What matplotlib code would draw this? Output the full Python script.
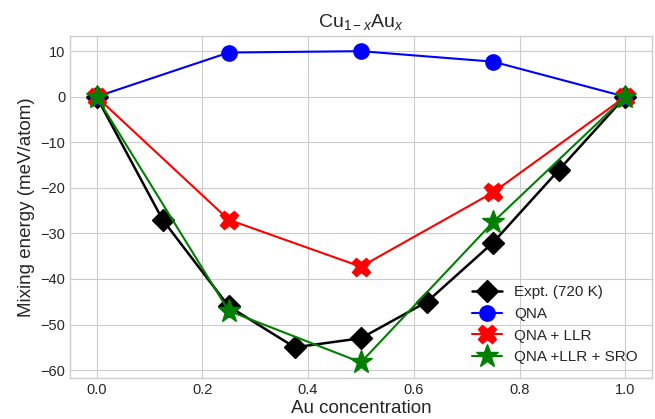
import matplotlib
matplotlib.use('Agg')
import matplotlib.pyplot as plt

# data
x_expt = [0.0, 0.125, 0.25, 0.375, 0.5, 0.625, 0.75, 0.875, 1.0]
e_expt = [0, -27, -46, -55, -53, -45, -32, -16, 0]

x_calc = [0.0, 0.25, 0.5, 0.75, 1.0]
e_qna = [0, 9.7, 10.0, 7.7, 0]
e_llr = [0, -27, -37.3, -21, 0]
e_sro = [0, -47, -58.3, -27.5, 0]

plt.style.use('seaborn-v0_8-whitegrid')
plt.rcParams['font.family'] = ['Liberation Sans', 'DejaVu Sans']
plt.rcParams['mathtext.fontset'] = 'custom'
plt.rcParams['mathtext.rm'] = 'Liberation Sans'
plt.rcParams['mathtext.it'] = 'Liberation Sans:italic'

fig, ax = plt.subplots(figsize=(6.55, 4.19), dpi=100)

ax.plot(x_expt, e_expt, 'k-D', markersize=11, lw=1.8, label='Expt. (720 K)')
ax.plot(x_calc, e_qna, 'b-o', markersize=11, lw=1.5, label='QNA')
ax.plot(x_calc, e_llr, 'r-X', markersize=13, lw=1.5, label='QNA + LLR')
ax.plot(x_calc, e_sro, 'g-*', markersize=17, lw=1.5, label='QNA +LLR + SRO')

ax.set_title(r'Cu$_{1-x}$Au$_x$', fontsize=14)
ax.set_xlabel('Au concentration', fontsize=13.5, labelpad=2)
ax.set_ylabel('Mixing energy (meV/atom)', fontsize=13.5)
ax.tick_params(labelsize=10.5)
for s in ax.spines.values():
    s.set_visible(True)
    s.set_color('#cccccc')
ax.legend(loc='lower right', fontsize=11, frameon=False)

fig.subplots_adjust(left=0.107, right=0.995, top=0.915, bottom=0.098)
fig.savefig('out.png')
